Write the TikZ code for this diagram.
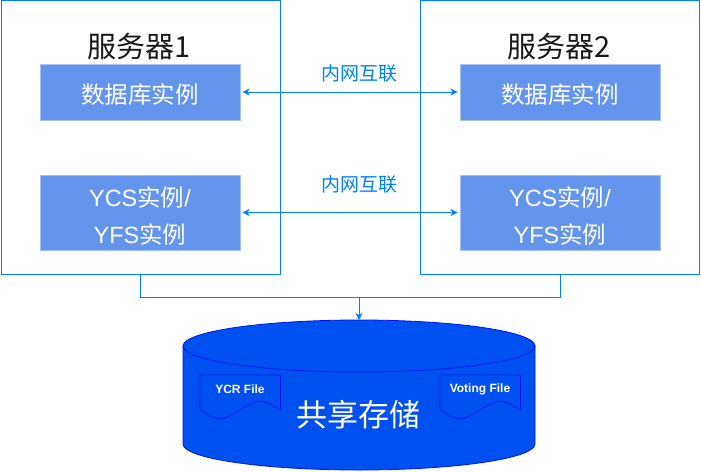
\documentclass[tikz,border=0pt]{standalone}
\usepackage{fontspec}
\setmainfont{Liberation Sans}
\newfontfamily\cjk{Noto Sans CJK SC}
\usetikzlibrary{arrows.meta}
\definecolor{lineblue}{RGB}{0,127,255}
\definecolor{dbfill}{RGB}{100,149,237}
\definecolor{dbborder}{RGB}{165,195,245}
\definecolor{cylfill}{RGB}{0,80,239}
\definecolor{cylline}{RGB}{0,20,235}
\begin{document}
\begin{tikzpicture}[x=1pt,y=-1pt,
  server/.style={draw=lineblue,line width=1pt,minimum width=279pt,minimum height=274pt,inner sep=0pt},
  title/.style={font=\cjk\fontsize{29}{32}\selectfont,text=black!90,inner sep=0pt},
  inst/.style={draw=dbborder,fill=dbfill,line width=1pt,minimum width=200pt,inner sep=0pt},
  insttext/.style={text=white,align=center,inner sep=0pt,font=\fontsize{23.5}{37}\selectfont},
  conn/.style={draw=lineblue,line width=1pt},
  tip/.style={-{Stealth[length=7pt,width=7pt,inset=2pt]}},
  tips/.style={{Stealth[length=7pt,width=7pt,inset=2pt]}-{Stealth[length=7pt,width=7pt,inset=2pt]}},
  netlabel/.style={text=lineblue,font=\cjk\fontsize{19}{22}\selectfont,inner sep=0pt},
  doc/.style={draw=cylline,line width=0.8pt,fill=cylfill},
  doctext/.style={text=white,font=\bfseries\fontsize{12}{14}\selectfont,inner sep=0pt}
]
\useasboundingbox (0,0) rectangle (701,471);
% servers
\node[server] (s1) at (140.5,137.5) {};
\node[server] (s2) at (560,137.5) {};
\node[title] (t1) at (139,46) {服务器1};
\node[title] (t2) at (559,46) {服务器2};
% instances
\node[inst,minimum height=56pt] (db1) at (140,92) {};
\node[inst,minimum height=56pt] (db2) at (560,92) {};
\node[inst,minimum height=75pt] (y1) at (140,212.5) {};
\node[inst,minimum height=75pt] (y2) at (560,212.5) {};
\node[insttext] (db1t) at (140,94.5) {\cjk 数据库实例};
\node[insttext] (db2t) at (560,94.5) {\cjk 数据库实例};
\node[insttext] (y1t) at (140,216) {YCS{\cjk 实例}/\\YFS{\cjk 实例}};
\node[insttext] (y2t) at (560,216) {YCS{\cjk 实例}/\\YFS{\cjk 实例}};
% interconnects
\draw[conn,tips,shorten <=2pt,shorten >=2pt] (db1.east) -- (db2.west);
\draw[conn,tips,shorten <=2pt,shorten >=2pt] (y1.east) -- (y2.west);
\node[netlabel] (n1) at (359,73.5) {内网互联};
\node[netlabel] (n2) at (359,184.5) {内网互联};
% storage cylinder
\path[fill=cylfill,draw=cylline,line width=0.8pt] (183,346) -- (183,444)
  arc[start angle=180,end angle=360,x radius=176pt,y radius=26pt] -- (535,346) -- cycle;
\draw[fill=cylfill,draw=cylline,line width=0.8pt] (359,346) ellipse [x radius=176pt,y radius=26pt];
\coordinate (stotop) at (359,320);
% documents
\draw[doc] (200,375) -- (280.5,375) -- (280.5,410) .. controls (260,398) .. (240,410) .. controls (220,422) .. (200,410) -- cycle;
\draw[doc] (440,375) -- (520.5,375) -- (520.5,410) .. controls (500,398) .. (480,410) .. controls (460,422) .. (440,410) -- cycle;
\node[doctext] (f1) at (240,389) {YCR File};
\node[doctext] (f2) at (480,389) {Voting File};
\node[text=white,font=\cjk\fontsize{31}{34}\selectfont,inner sep=0pt] (st) at (358.5,415) {共享存储};
% connector to storage
\coordinate (j) at (359,297.5);
\draw[conn] (s1.south) |- (j) -| (s2.south);
\draw[conn,tip] (j) -- (stotop);
\end{tikzpicture}
\end{document}
